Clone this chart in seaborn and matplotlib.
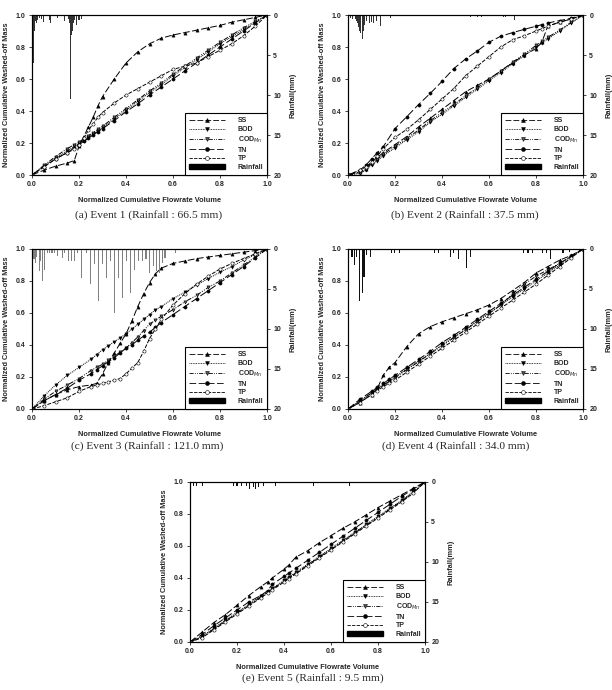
import numpy as np
import pandas as pd
import matplotlib
matplotlib.use("Agg")
import matplotlib.pyplot as plt
from matplotlib.lines import Line2D
from matplotlib.patches import Patch
import seaborn as sns

sns.set_style("ticks")
plt.rcParams['font.family'] = ['Liberation Sans', 'DejaVu Sans']

# ---------------- data ----------------
pollutants = ["SS", "BOD", "COD$_{Mn}$", "TN", "TP"]

# Event 1
x_a = [0, .05, .1, .15, .18, .2, .22, .24, .26, .28, .3, .35, .4, .45, .5, .55, .6, .65, .7, .75, .8, .85, .9, .95, 1.0]
ss_a = [0, .03, .055, .075, .09, .18, .24, .30, .36, .43, .49, .60, .70, .77, .82, .855, .875, .89, .905, .92, .935, .955, .97, .985, 1.0]
bod_a = [0, .055, .105, .15, .18, .195, .215, .235, .255, .275, .295, .35, .405, .46, .515, .565, .62, .67, .72, .77, .82, .865, .91, .955, 1.0]
cod_a = [0, .06, .115, .165, .19, .205, .225, .245, .265, .285, .305, .36, .415, .47, .525, .575, .63, .68, .73, .78, .83, .875, .92, .96, 1.0]
tn_a = [0, .05, .10, .14, .17, .19, .21, .23, .25, .27, .29, .34, .395, .445, .50, .55, .60, .65, .70, .75, .80, .85, .90, .95, 1.0]
tp_a = [0, .05, .10, .14, .16, .19, .23, .28, .32, .36, .39, .45, .50, .54, .58, .62, .66, .68, .70, .74, .78, .82, .87, .93, 1.0]
rain_x_a = [.003, .006, .009, .012, .016, .02, .025, .03, .04, .05, .075, .08, .11, .14, .155, .16, .165, .168, .172, .176, .18, .19, .2, .21]
rain_a = [3.8, 6.0, 2.0, 1.2, 0.8, 1.0, 0.6, 0.4, 0.5, 0.9, 0.6, 1.0, 0.4, 0.7, 0.5, 1.0, 10.5, 2.5, 2.0, 1.0, 0.6, 1.2, 0.6, 0.5]

# Event 2
x_b = [0, .05, .075, .1, .125, .15, .2, .25, .3, .35, .4, .45, .5, .55, .6, .65, .7, .75, .8, .825, .85, .9, .95, 1.0]
ss_b = [0, .02, .04, .08, .11, .14, .19, .24, .30, .355, .41, .465, .52, .56, .60, .65, .70, .75, .79, .83, .93, .955, .975, 1.0]
bod_b = [0, .01, .03, .06, .09, .12, .17, .22, .27, .33, .38, .43, .485, .535, .59, .64, .695, .745, .80, .825, .85, .90, .95, 1.0]
cod_b = [0, .015, .035, .07, .10, .13, .18, .23, .28, .34, .39, .44, .495, .545, .60, .65, .705, .755, .81, .835, .86, .905, .955, 1.0]
tn_b = [0, .03, .06, .10, .14, .177, .29, .364, .44, .51, .585, .665, .725, .775, .83, .867, .89, .91, .93, .94, .95, .965, .98, 1.0]
tp_b = [0, .03, .05, .08, .12, .165, .235, .285, .345, .41, .475, .54, .62, .68, .74, .80, .845, .87, .90, .915, .93, .955, .975, 1.0]
rain_x_b = [.003, .01, .02, .03, .035, .04, .045, .05, .055, .06, .065, .07, .08, .09, .1, .11, .12, .14, .18, .52, .55, .57, .66, .67, .71]
rain_b = [3.5, 0.4, 0.5, 0.5, 0.8, 1.0, 1.5, 2.0, 2.3, 3.0, 2.0, 1.2, 0.8, 1.0, 0.9, 1.0, 0.8, 1.4, 0.4, 0.3, 0.3, 0.3, 0.3, 0.3, 0.6]

# Event 3
x_c = [0, .05, .1, .15, .2, .25, .275, .3, .325, .35, .375, .4, .425, .45, .475, .5, .525, .55, .6, .65, .7, .75, .8, .85, .9, .95, 1.0]
ss_c = [0, .05, .09, .12, .14, .15, .16, .22, .29, .35, .41, .47, .55, .64, .72, .79, .845, .88, .91, .925, .94, .95, .96, .97, .98, .99, 1.0]
bod_c = [0, .08, .15, .21, .26, .31, .34, .37, .395, .42, .445, .47, .50, .53, .56, .59, .62, .64, .69, .73, .775, .815, .855, .89, .93, .965, 1.0]
cod_c = [0, .06, .11, .15, .19, .24, .26, .28, .305, .33, .355, .38, .415, .45, .49, .53, .555, .58, .62, .67, .71, .76, .80, .85, .90, .95, 1.0]
tn_c = [0, .05, .09, .13, .18, .22, .245, .27, .295, .32, .35, .38, .40, .43, .455, .48, .51, .54, .59, .64, .69, .74, .79, .84, .89, .945, 1.0]
tp_c = [0, .02, .045, .07, .11, .14, .15, .16, .17, .18, .19, .22, .255, .29, .36, .44, .50, .56, .65, .72, .78, .83, .875, .91, .94, .97, 1.0]
rain_x_c = [.003, .0085, .015, .02, .031, .038, .045, .055, .065, .075, .085, .095, .108, .128, .14, .155, .168, .18, .195, .211, .23, .247, .265, .282, .3, .318, .336, .353, .37, .386, .403, .42, .437, .455, .471, .485, .499, .516, .528, .542, .556, .566, .609]
rain_c = [8.3, 1.3, 1.7, 1.0, 2.75, 1.5, 4.0, 2.6, 0.5, 0.5, 0.5, 0.5, 0.9, 1.1, 0.5, 1.5, 1.5, 1.5, 0.5, 3.6, 0.5, 4.4, 1.9, 6.5, 1.9, 3.6, 1.5, 8.0, 3.6, 6.1, 1.5, 5.5, 2.6, 1.5, 1.5, 1.3, 3.0, 2.1, 2.75, 3.0, 1.7, 1.1, 0.5]

# Event 4
x_d = [0, .05, .1, .125, .15, .175, .2, .25, .3, .35, .4, .45, .5, .55, .6, .65, .7, .75, .8, .85, .9, .95, 1.0]
ss_d = [0, .04, .09, .13, .21, .26, .29, .39, .47, .515, .545, .57, .595, .62, .65, .69, .74, .79, .85, .89, .93, .96, 1.0]
bod_d = [0, .05, .10, .125, .15, .175, .20, .25, .30, .35, .40, .45, .50, .55, .60, .65, .70, .75, .80, .85, .90, .95, 1.0]
cod_d = [0, .05, .10, .125, .15, .17, .195, .245, .295, .345, .395, .445, .495, .545, .595, .65, .72, .78, .83, .87, .91, .955, 1.0]
tn_d = [0, .06, .11, .135, .16, .185, .21, .26, .31, .36, .415, .46, .51, .56, .61, .66, .71, .76, .81, .86, .91, .955, 1.0]
tp_d = [0, .04, .09, .115, .14, .16, .18, .23, .28, .33, .38, .43, .48, .53, .58, .63, .68, .73, .78, .835, .89, .945, 1.0]
rain_x_d = [.017, .028, .038, .05, .06, .068, .078, .095, .184, .199, .22, .369, .387, .435, .45, .47, .504, .52, .748, .766, .787, .826, .844, .861, .915, .943]
rain_d = [1.0, 2.0, 1.0, 6.5, 5.5, 3.5, 0.75, 1.0, 0.5, 0.5, 0.5, 0.5, 0.5, 1.0, 0.5, 1.2, 2.4, 1.0, 0.5, 0.5, 0.5, 0.5, 0.5, 1.2, 0.5, 0.4]

# Event 5
x_e = [0, .05, .1, .15, .2, .25, .3, .33, .35, .4, .42, .45, .5, .55, .6, .65, .7, .75, .8, .85, .9, .95, 1.0]
ss_e = [0, .06, .12, .17, .23, .29, .345, .375, .40, .455, .48, .53, .57, .62, .665, .71, .75, .795, .84, .88, .92, .96, 1.0]
bod_e = [0, .035, .085, .135, .185, .235, .285, .315, .335, .385, .405, .435, .485, .535, .585, .635, .685, .735, .785, .835, .885, .94, 1.0]
cod_e = [0, .03, .08, .13, .18, .23, .28, .31, .33, .38, .40, .43, .48, .53, .58, .63, .68, .73, .78, .83, .88, .935, 1.0]
tn_e = [0, .045, .10, .15, .20, .25, .29, .32, .36, .41, .43, .46, .51, .56, .61, .66, .71, .76, .81, .86, .91, .955, 1.0]
tp_e = [0, .025, .075, .125, .175, .225, .275, .305, .325, .375, .395, .425, .475, .525, .575, .625, .675, .725, .775, .825, .875, .93, 1.0]
rain_x_e = [.003, .014, .028, .052, .184, .2, .22, .241, .255, .27, .28, .29, .312, .362, .525, .68]
rain_e = [1.5, 0.45, 0.45, 0.45, 0.45, 0.45, 0.45, 0.45, 0.85, 0.6, 0.85, 0.6, 0.45, 0.45, 0.45, 0.45]

captions = ["(a) Event 1 (Rainfall : 66.5 mm)", "(b) Event 2 (Rainfall : 37.5 mm)",
            "(c) Event 3 (Rainfall : 121.0 mm)", "(d) Event 4 (Rainfall : 34.0 mm)",
            "(e) Event 5 (Rainfall : 9.5 mm)"]

# ---------------- styles ----------------
styles = {
    "SS": dict(ls=(0, (7, 2.5)), marker="^", mfc="k"),
    "BOD": dict(ls=(0, (1, 1)), marker="v", mfc="k"),
    "COD$_{Mn}$": dict(ls=(0, (5, 1.5, 1, 1.5, 1, 1.5)), marker="v", mfc="#555555"),
    "TN": dict(ls=(0, (8, 3)), marker="o", mfc="k"),
    "TP": dict(ls=(0, (4, 1.5)), marker="o", mfc="white"),
}

fig = plt.figure(figsize=(6.12, 6.90), dpi=100)

W = 235 / 612
H = 160 / 690
rects = [(32 / 612, 1 - 175 / 690), (348 / 612, 1 - 175 / 690),
         (32 / 612, 1 - 409 / 690), (348 / 612, 1 - 409 / 690),
         (190 / 612, 1 - 642 / 690)]
cap_pos = [(0.2435, 1 - 215 / 690), (0.760, 1 - 215 / 690),
           (0.241, 1 - 446 / 690), (0.745, 1 - 446 / 690),
           (0.5106, 1 - 678 / 690)]
bar_colors = ["#333333", "#333333", "#808080", "#111111", "#111111"]

panels = [
    (x_a, [ss_a, bod_a, cod_a, tn_a, tp_a], rain_x_a, rain_a),
    (x_b, [ss_b, bod_b, cod_b, tn_b, tp_b], rain_x_b, rain_b),
    (x_c, [ss_c, bod_c, cod_c, tn_c, tp_c], rain_x_c, rain_c),
    (x_d, [ss_d, bod_d, cod_d, tn_d, tp_d], rain_x_d, rain_d),
    (x_e, [ss_e, bod_e, cod_e, tn_e, tp_e], rain_x_e, rain_e),
]

tick_fs = 5
lab_fs = 5.3

for i, (xv, ys, rx, rv) in enumerate(panels):
    ax = fig.add_axes([rects[i][0], rects[i][1], W, H])
    for name, yv in zip(pollutants, ys):
        st = styles[name]
        sns.lineplot(x=xv, y=yv, ax=ax, color="k", lw=0.7, linestyle=st["ls"],
                     marker=st["marker"], markersize=2.3, markerfacecolor=st["mfc"],
                     markeredgecolor="k", markeredgewidth=0.4)
    ax.set_xlim(0, 1)
    ax.set_ylim(0, 1)
    ax.set_xticks([0, .2, .4, .6, .8, 1.0])
    ax.set_yticks([0, .2, .4, .6, .8, 1.0])
    ax.set_xticklabels(["0.0", "0.2", "0.4", "0.6", "0.8", "1.0"])
    ax.set_yticklabels(["0.0", "0.2", "0.4", "0.6", "0.8", "1.0"])
    ax.tick_params(labelsize=tick_fs, length=2.5, width=0.6, pad=2)
    for lab in ax.get_xticklabels() + ax.get_yticklabels():
        lab.set_fontweight("bold")
    ax.set_xlabel("Normalized Cumulative Flowrate Volume", fontsize=lab_fs, fontweight="bold", labelpad=6)
    ax.set_ylabel("Normalized Cumulative Washed-off Mass", fontsize=lab_fs, fontweight="bold", labelpad=4)
    for sp in ax.spines.values():
        sp.set_linewidth(0.8)
        sp.set_color("k")

    ax2 = ax.twinx()
    ax2.bar(rx, rv, width=0.0045, color=bar_colors[i], linewidth=0)
    ax2.set_ylim(20, 0)
    ax2.set_yticks([0, 5, 10, 15, 20])
    ax2.tick_params(labelsize=tick_fs, length=2.5, width=0.6, pad=2)
    for lab in ax2.get_yticklabels():
        lab.set_fontweight("bold")
    ax2.set_ylabel("Rainfall(mm)", fontsize=lab_fs, fontweight="bold", labelpad=6)
    for sp in ax2.spines.values():
        sp.set_linewidth(0.8)
        sp.set_color("k")

    handles = []
    for name in pollutants:
        st = styles[name]
        handles.append(Line2D([], [], color="k", lw=0.6, linestyle=st["ls"], marker=st["marker"],
                              markersize=2.8, markerfacecolor=st["mfc"], markeredgecolor="k",
                              markeredgewidth=0.4))
    handles.append(Patch(facecolor="k", edgecolor="k"))
    leg = ax2.legend(handles, pollutants + ["Rainfall"], loc="lower right", bbox_to_anchor=(1, 0),
                     borderaxespad=0, frameon=True, fancybox=False, framealpha=1,
                     edgecolor="k", handlelength=5.2, handletextpad=1.8, labelspacing=0.25,
                     borderpad=0.55, numpoints=1, prop={"weight": "bold", "size": 5})
    leg.get_frame().set_linewidth(0.8)

    fig.text(cap_pos[i][0], cap_pos[i][1], captions[i], ha="center", va="center",
             fontsize=8.2, family=["Liberation Serif", "DejaVu Serif"])

fig.savefig("out.png", dpi=100, facecolor="white")
